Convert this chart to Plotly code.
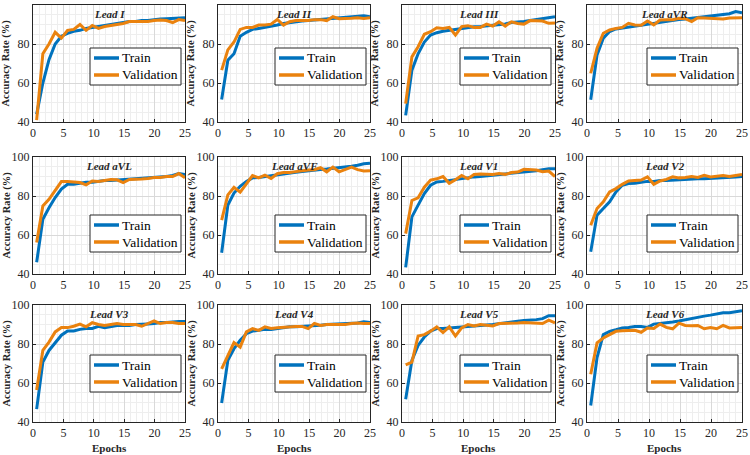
import plotly.graph_objects as go

epochs = [0.6, 1.62, 2.63, 3.65, 4.67, 5.68, 6.7, 7.72, 8.73, 9.75, 10.77, 11.78, 12.8,
          13.82, 14.83, 15.85, 16.87, 17.88, 18.9, 19.92, 20.93, 21.95, 22.97, 23.98, 25.0]

lead_names = ["Lead I", "Lead II", "Lead III", "Lead aVR", "Lead aVL", "Lead aVF",
              "Lead V1", "Lead V2", "Lead V3", "Lead V4", "Lead V5", "Lead V6"]
series_names = ["Train", "Validation"]

train_I = [44, 60, 72, 80, 84, 85.5, 86.5, 87, 88, 88.5, 89, 89.5, 90, 90.5, 91, 91.5, 91.5, 92, 92, 92.5, 92.8, 93, 93.2, 93.5, 93.5]
val_I = [41, 75, 80, 86, 83, 87, 87.5, 90, 87, 89.5, 88, 89, 89.5, 90, 90.5, 91.5, 91.5, 91.8, 91.5, 92, 92.3, 92, 91, 92.5, 92]

train_II = [51.5, 71.7, 75, 84, 86, 87.5, 88, 88.5, 89, 89.7, 90.5, 91, 91.5, 91.8, 92, 92.3, 92.6, 93, 93.2, 93.5, 93.8, 94.2, 94.5, 94.5, 94]
val_II = [66.6, 77, 81, 87.5, 88.5, 88.5, 89.7, 89.7, 90.2, 92.6, 89.7, 91.4, 92, 92, 92, 92.5, 92.5, 92, 94, 93, 93, 93.2, 93.5, 93.1, 93.5]

train_III = [43.4, 66.6, 75, 81, 84.6, 85.8, 86.5, 87, 87.5, 88, 88.5, 88.8, 89, 89.3, 89.7, 90, 90.3, 91, 91.2, 91.5, 92, 92.5, 93, 93.5, 94]
val_III = [49.4, 73.4, 78.6, 85, 86.3, 88.3, 88, 88.5, 84.6, 88.9, 89.4, 88.5, 88.5, 90.2, 89.2, 91.4, 89.2, 91.4, 90.5, 90.2, 92, 92, 91.8, 90.6, 90.8]

train_aVR = [51.4, 74.4, 83, 86.4, 87.7, 88.2, 88.5, 89, 89.5, 90, 90.5, 91, 91.5, 92, 92.5, 92.8, 93.2, 93.5, 94, 94.5, 94.8, 95, 95.5, 96.6, 96]
val_aVR = [65, 77.8, 85.5, 87.2, 88, 88.5, 90.6, 89.8, 89.6, 91.8, 89.8, 92.3, 92.5, 92.5, 93.2, 93, 91.5, 93.5, 93.3, 93.2, 93, 92.8, 93.3, 93.3, 93.5]

train_aVL = [46, 68.1, 74, 79.2, 83.5, 86, 86, 86.5, 87, 87, 87.5, 88, 88, 88.2, 88.5, 88.6, 88.8, 89, 89.2, 89.5, 89.7, 90, 90.5, 91.5, 91]
val_aVL = [56.2, 74.9, 78.3, 82.6, 87.4, 87.4, 87.2, 86.9, 85.7, 87.7, 87.5, 88, 88.5, 88.3, 86.9, 88.5, 88.5, 88.7, 89, 89.5, 89.5, 90, 90, 91.5, 89.3]

train_aVF = [50.9, 75.4, 81.5, 85, 87.5, 89.3, 89.5, 90, 90.5, 91, 91.5, 91.8, 92.2, 92.6, 93, 93.3, 93.6, 93.8, 94.1, 94.5, 94.9, 95.3, 95.8, 96.5, 96.8]
val_aVF = [67.6, 80.6, 84.4, 82, 86.2, 90.5, 89.3, 90.7, 89, 91.4, 92, 92, 92.5, 93, 93.3, 93.5, 94.5, 92.4, 94.8, 92.4, 93.5, 94.8, 93.5, 92.8, 93]

train_V1 = [43.4, 69.3, 75.3, 81.3, 85.5, 87.2, 87.5, 88, 88.5, 89, 89.5, 89.8, 90, 90.3, 90.7, 91, 91.3, 91.8, 92.1, 92.5, 92.7, 93, 93.5, 94, 94]
val_V1 = [60.7, 77.7, 79.1, 84.5, 88.2, 88.8, 90, 86.5, 88.3, 90.5, 88.8, 91, 91.3, 91, 91, 91.5, 91.1, 92, 92.3, 93.7, 93.5, 93.3, 92.5, 92.8, 90]

train_V2 = [51.4, 70.2, 73.6, 77, 82.1, 85.5, 86.4, 86.5, 87, 87.5, 87.5, 88, 88, 88.2, 88.5, 88.5, 88.7, 88.8, 88.9, 89, 89.1, 89.3, 89.5, 89.7, 90]
val_V2 = [65, 73.6, 77, 82.1, 83.8, 86, 87.7, 88, 88.2, 89.8, 86, 87.7, 88.5, 89.8, 89.3, 89.5, 90, 89.5, 90.6, 89.8, 90, 90.5, 90, 90.5, 91]

train_V3 = [46.6, 70.7, 76.7, 80.5, 84.5, 86.7, 86.7, 87.5, 88, 88, 89.1, 88.3, 89, 89.5, 89.5, 89.5, 90, 90, 90.3, 90.5, 91, 91, 91.3, 91.5, 91.5]
val_V3 = [56.4, 76.7, 81, 86.2, 88.4, 88.4, 89.1, 90.2, 88.8, 90.9, 90, 89.5, 90, 90.5, 90, 90, 90, 89.1, 90.5, 91.8, 90.5, 91, 91, 90.5, 90.5]

train_V4 = [49.7, 71.6, 77.6, 81.9, 85.3, 86.6, 87, 87.5, 87.5, 88, 88.5, 88.8, 88.8, 89, 89, 89.3, 89.6, 90, 90.1, 90.3, 90.4, 90.5, 90.8, 91.4, 91]
val_V4 = [67.2, 74.1, 80.7, 78.4, 86.2, 87.9, 87, 88.8, 88, 88.3, 88.5, 89, 89, 89, 87.9, 90.5, 89.5, 90, 90, 89.8, 90, 90.5, 90.8, 90.5, 90.5]

train_V5 = [51.7, 71.6, 79.3, 83.6, 86.6, 87.9, 88, 88.3, 88.5, 89, 89.3, 89.5, 89.7, 89.8, 90, 90.5, 91, 91.5, 91.7, 92, 92.2, 92.5, 93, 94.5, 94.5]
val_V5 = [69.3, 70.7, 84.1, 84.8, 86.6, 88.8, 85.9, 88.8, 84.1, 88.3, 90, 89.3, 90, 89.8, 89.3, 90.5, 90.5, 90.5, 90.8, 91, 90.8, 90.5, 90.5, 92.2, 90.8]

train_V6 = [48.5, 73, 84.8, 86.5, 87.3, 88.2, 88.5, 89, 89, 88.5, 90.2, 90.5, 90.8, 91.3, 91.8, 92.5, 93, 93.8, 94.3, 94.8, 95.3, 96, 96, 96.5, 97]
val_V6 = [64.5, 80.6, 83.1, 84.8, 86.5, 86.8, 87, 87, 86, 88.2, 88, 90.2, 88.5, 87.8, 90.7, 89.5, 89.3, 89.5, 87.8, 88.5, 87.8, 89.5, 88.2, 88.5, 88.5]

train_series = [train_I, train_II, train_III, train_aVR, train_aVL, train_aVF,
                train_V1, train_V2, train_V3, train_V4, train_V5, train_V6]
val_series = [val_I, val_II, val_III, val_aVR, val_aVL, val_aVF,
              val_V1, val_V2, val_V3, val_V4, val_V5, val_V6]

x_ticks = [0, 5, 10, 15, 20, 25]
y_ticks = [40, 60, 80, 100]

W, H = 750, 455
col_left = [33, 218, 402, 587]
col_right = [185, 370, 555, 742]
row_top = [5, 157, 305]
row_bottom = [122, 274, 422]
legend_top = [48, 215, 355]

BLUE = "#0072BD"
ORANGE = "#EA820E"
COLORS = [BLUE, ORANGE]
SERIF = "Liberation Serif"
DARK = "#262626"


def px_x(v):
    return v / W


def px_y(v):
    return 1 - v / H


fig = go.Figure()
layout = {}
annotations = []
shapes = []

for i in range(12):
    r, c = divmod(i, 4)
    n = i + 1
    xa = "x" if n == 1 else f"x{n}"
    ya = "y" if n == 1 else f"y{n}"
    fig.add_trace(go.Scatter(x=epochs, y=train_series[i], mode="lines", name=series_names[0],
                             line=dict(color=BLUE, width=3), xaxis=xa, yaxis=ya,
                             showlegend=False))
    fig.add_trace(go.Scatter(x=epochs, y=val_series[i], mode="lines", name=series_names[1],
                             line=dict(color=ORANGE, width=3), xaxis=xa, yaxis=ya,
                             showlegend=False))
    xdom = [px_x(col_left[c]), px_x(col_right[c])]
    ydom = [px_y(row_bottom[r]), px_y(row_top[r])]
    axis_common = dict(showline=True, linecolor=DARK, linewidth=1, mirror=True,
                       ticks="inside", ticklen=3, tickcolor=DARK, automargin=False,
                       showgrid=True, gridcolor="#d9d9d9", gridwidth=1,
                       zeroline=False, tickfont=dict(family=SERIF, size=12, color=DARK))
    layout["xaxis" if n == 1 else f"xaxis{n}"] = dict(
        domain=xdom, range=[0, 25], tickvals=x_ticks, anchor=ya,
        minor=dict(dtick=1, tick0=0, showgrid=True, gridcolor="#eeeeee", gridwidth=1),
        **axis_common)
    layout["yaxis" if n == 1 else f"yaxis{n}"] = dict(
        domain=ydom, range=[40, 100], tickvals=y_ticks, anchor=xa,
        minor=dict(dtick=5, tick0=40, showgrid=True, gridcolor="#eeeeee", gridwidth=1),
        **axis_common)

    # legend box (drawn inside each panel, lower right)
    lx1 = col_right[c] - 4
    lx0 = lx1 - 91
    ly0 = legend_top[r]
    ly1 = ly0 + 37
    shapes.append(dict(type="rect", xref="paper", yref="paper",
                       x0=px_x(lx0), x1=px_x(lx1), y0=px_y(ly1), y1=px_y(ly0),
                       fillcolor="white", line=dict(color=DARK, width=1), layer="above"))
    for k in range(2):
        yc = ly0 + 10 + 17 * k
        shapes.append(dict(type="line", xref="paper", yref="paper",
                           x0=px_x(lx0 + 4), x1=px_x(lx0 + 29), y0=px_y(yc), y1=px_y(yc),
                           line=dict(color=COLORS[k], width=3.5), layer="above"))
        annotations.append(dict(text=series_names[k], x=px_x(lx0 + 30), y=px_y(yc),
                                xref="paper", yref="paper", xanchor="left", yanchor="middle",
                                showarrow=False,
                                font=dict(family=SERIF, size=13.5, color="black")))

    cx = (col_left[c] + col_right[c]) / 2 / W
    annotations.append(dict(text="<b><i>" + lead_names[i] + "</i></b>", x=cx,
                            y=px_y(row_top[r] + 9), xref="paper", yref="paper",
                            xanchor="center", yanchor="middle", showarrow=False,
                            font=dict(family=SERIF, size=11, color=DARK)))
    annotations.append(dict(text="<b>Accuracy Rate (%)</b>", textangle=-90,
                            x=px_x(col_left[c] - 27),
                            y=px_y((row_top[r] + row_bottom[r]) / 2),
                            xref="paper", yref="paper", xanchor="center", yanchor="middle",
                            showarrow=False, font=dict(family=SERIF, size=10.5, color=DARK)))
    if r == 2:
        annotations.append(dict(text="<b>Epochs</b>", x=cx, y=px_y(448),
                                xref="paper", yref="paper", xanchor="center",
                                yanchor="middle", showarrow=False,
                                font=dict(family=SERIF, size=11, color=DARK)))

fig.update_layout(**layout)
fig.update_layout(width=W, height=H, margin=dict(l=0, r=0, t=0, b=0),
                  paper_bgcolor="white", plot_bgcolor="white", showlegend=False,
                  annotations=annotations, shapes=shapes, font=dict(family=SERIF))

fig.write_html("out.html", config={"displayModeBar": False},
               post_script="document.body.style.margin='0px';document.body.style.overflow='hidden';")
